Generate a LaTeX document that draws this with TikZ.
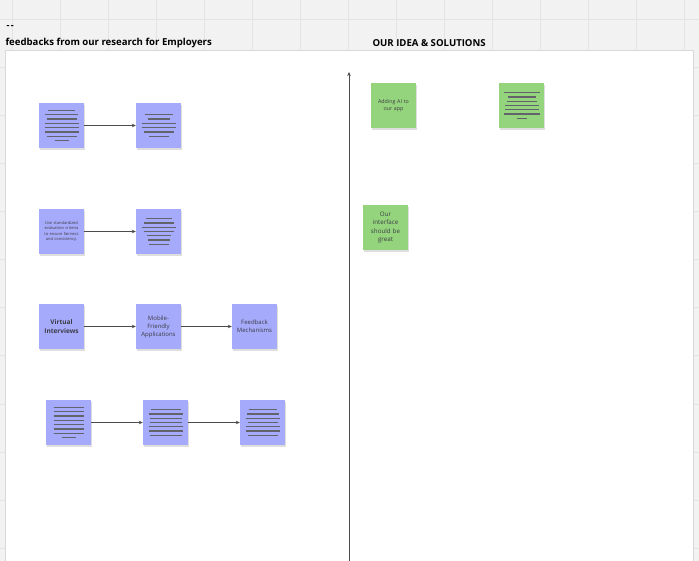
\documentclass[tikz,border=0pt]{standalone}
\usepackage{fontspec}
\setmainfont{Open Sans}
\usetikzlibrary{arrows.meta}
\definecolor{bgc}{RGB}{242,242,242}
\definecolor{gridc}{RGB}{228,228,228}
\definecolor{blu}{RGB}{166,170,250}
\definecolor{grn}{RGB}{148,212,124}
\definecolor{inkc}{RGB}{60,60,70}
\newcommand\Ln[1]{\rule{#1pt}{1.3pt}}
\tikzset{
 sticky/.style={minimum width=45pt,minimum height=45pt,inner sep=1pt,text width=43pt,align=center,
   text=inkc,font=\fontsize{6}{8}\selectfont,
   preaction={fill=black!25,opacity=0.5,transform canvas={yshift=-2pt,xshift=1pt}}},
 bs/.style={sticky,fill=blu},
 gs/.style={sticky,fill=grn},
 lines/.style={font=\fontsize{4.3}{4.3}\selectfont,text=inkc!80},
 conn/.style={draw=black!70,line width=0.6pt,-{Stealth[length=4pt,width=3.5pt]}},
}
\begin{document}
\begin{tikzpicture}[x=1pt,y=-1pt]
\useasboundingbox (0,0) rectangle (699,561);
\fill[bgc] (0,0) rectangle (699,561);
\foreach \x in {12,60,...,699} \draw[gridc,line width=1pt] (\x,0) -- (\x,561);
\foreach \y in {20,68,...,561} \draw[gridc,line width=1pt] (0,\y) -- (699,\y);
\fill[white] (5,50) rectangle (693,561);
\draw[black!15] (5,50) rectangle (693,562);
\node[anchor=west,font=\bfseries\fontsize{9}{10}\selectfont] (dash) at (3,27) {-\,-};
\node[anchor=west,font=\bfseries\fontsize{9.6}{11}\selectfont] (t1) at (2,43) {feedbacks from our research for Employers};
\node[anchor=west,font=\bfseries\fontsize{9.6}{11}\selectfont] (t2) at (369,43) {OUR IDEA \& SOLUTIONS};
\coordinate (axb) at (349,561);
\coordinate (axt) at (349,72);
\draw[black!70,line width=0.8pt,-{Stealth[length=4pt,width=3.5pt]}] (axb) -- (axt);
% row 1
\node[bs,lines] (a1) at (61.5,125.5) {\Ln{28}\\\Ln{32}\\\Ln{30}\\\Ln{34}\\\Ln{34}\\\Ln{34}\\\Ln{30}\\\Ln{14}};
\node[bs,lines] (a2) at (158.5,125.5) {\Ln{28}\\\Ln{22}\\\Ln{34}\\\Ln{34}\\\Ln{30}\\\Ln{20}};
% row 2
\node[bs,font=\fontsize{4}{5.2}\selectfont] (b1) at (61.5,231.5) {Use standardized evaluation criteria to ensure fairness and consistency.};
\node[bs,lines] (b2) at (158.5,231.5) {\Ln{26}\\\Ln{30}\\\Ln{34}\\\Ln{30}\\\Ln{24}\\\Ln{22}\\\Ln{20}};
% row 3
\node[bs,font=\bfseries\fontsize{6.5}{8.5}\selectfont] (c1) at (61.5,326.5) {Virtual\\Interviews};
\node[bs] (c2) at (158.5,326.5) {Mobile-\\Friendly\\Applications};
\node[bs] (c3) at (254.5,326.5) {Feedback\\Mechanisms};
% row 4
\node[bs,lines] (d1) at (68.5,422.5) {\Ln{30}\\\Ln{30}\\\Ln{30}\\\Ln{30}\\\Ln{30}\\\Ln{30}\\\Ln{30}\\\Ln{14}};
\node[bs,lines] (d2) at (165.5,422.5) {\Ln{30}\\\Ln{34}\\\Ln{32}\\\Ln{32}\\\Ln{34}\\\Ln{34}\\\Ln{32}};
\node[bs,lines] (d3) at (262.5,422.5) {\Ln{28}\\\Ln{32}\\\Ln{34}\\\Ln{30}\\\Ln{34}\\\Ln{34}\\\Ln{30}};
% green
\node[gs,font=\fontsize{5.3}{7}\selectfont] (g1) at (393.5,105.5) {Adding AI to\\our app};
\node[gs,lines] (g2) at (521.5,105.5) {\Ln{36}\\\Ln{28}\\\Ln{30}\\\Ln{34}\\\Ln{34}\\\Ln{36}\\\Ln{10}};
\node[gs,font=\fontsize{6.2}{8.2}\selectfont] (g3) at (385.5,227.5) {Our\\interface\\should be\\great};
% connectors
\draw[conn] (a1) -- (a2);
\draw[conn] (b1) -- (b2);
\draw[conn] (c1) -- (c2);
\draw[conn] (c2) -- (c3);
\draw[conn] (d1) -- (d2);
\draw[conn] (d2) -- (d3);
\end{tikzpicture}
\end{document}
